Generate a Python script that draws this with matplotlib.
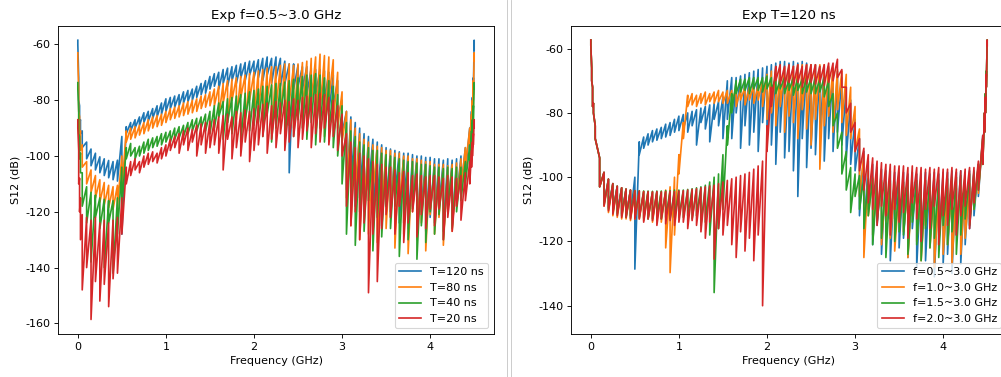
import numpy as np
import matplotlib
matplotlib.use('Agg')
import matplotlib.pyplot as plt
from matplotlib.lines import Line2D

plt.rcParams['axes.unicode_minus'] = False

# frequency sweep (GHz): fine near the band edges, 0.05 GHz in between
freq = [0.0, 0.01, 0.02, 0.03] + [round(0.05 * k, 2) for k in range(1, 90)] + [4.47, 4.48, 4.49, 4.5]

# each trace is stored as the upper / lower edge of its noise band (dB)
# ---- left panel: f=0.5~3.0 GHz, different T ----
t120_hi = [-58.5, -72, -82, -87,
           -91, -95, -97.5, -99, -100.3, -101, -101.6, -102, -101.5, -93,
           -89.5, -88, -87, -86, -84.5, -84, -83, -82, -81, -79.5,
           -79, -78.5, -78, -77, -76.5, -76, -75, -74, -73, -71.5,
           -70.5, -70, -69, -68.5, -68, -67.5, -67, -66.5, -66, -66,
           -65.5, -65, -64.5, -65, -64.5, -65, -66, -67, -67, -67.5,
           -68, -68, -68.5, -69, -69, -69.5, -70, -71, -73, -80,
           -84, -86, -88, -90, -92, -93, -94, -95, -96, -97,
           -97.5, -98, -98.5, -99, -99, -99.5, -100, -100, -100.5, -100.5,
           -101, -101, -101.5, -101, -101.5, -101, -100, -97, -90,
           -84, -79, -72, -58.5]
t120_lo = [-60, -80, -88, -92,
           -97, -101, -103.5, -105, -106, -107, -107.8, -108.5, -109, -128,
           -92, -91, -90, -89, -88, -87.5, -86.5, -86, -85, -84,
           -83, -82.5, -82, -81, -80.5, -80, -79, -78, -77.5, -76,
           -75, -76, -74, -75, -73, -74, -72, -73, -71, -72,
           -72, -73, -71, -74, -72, -75, -74, -106, -76, -75,
           -76, -78, -80, -78, -82, -80, -84, -82, -86, -92,
           -112, -110, -118, -115, -120, -112, -122, -116, -125, -118,
           -120, -114, -124, -117, -126, -118, -128, -120, -127, -122,
           -124, -118, -127, -120, -125, -116, -112, -106, -96,
           -90, -85, -78, -62]

t80_hi = [-63, -76, -86, -91,
          -96, -102, -105, -107, -108.5, -109.5, -110.5, -111, -110.5, -100,
          -91, -90, -89.5, -89, -88, -87, -86, -85.5, -85, -84,
          -83, -82.5, -82, -81, -80.5, -80, -79.5, -78.5, -78, -77,
          -76, -75, -74, -73, -72.5, -72, -71.5, -71, -70.5, -70,
          -69.5, -69, -68.5, -68, -68, -67.5, -67, -67, -67.5, -67,
          -66.5, -66, -65, -64.5, -63.5, -64, -64.5, -65.5, -70, -77,
          -84, -87, -90, -92, -94, -95, -96, -96.5, -97, -98,
          -98, -99, -99, -100, -100, -101, -101, -101.5, -102, -102,
          -103, -103, -103, -103.5, -103, -102.5, -101, -97, -90,
          -85, -80, -73, -63]
t80_lo = [-66, -84, -93, -98,
          -104, -110, -113, -115, -116.5, -117.5, -118.5, -119, -118, -112,
          -95, -94, -93.5, -92.5, -92, -91, -90, -89.5, -89, -88,
          -87, -86.5, -86, -85.5, -85, -84.5, -84, -83, -82.5, -82,
          -82, -86, -81, -88, -80, -87, -79, -89, -80, -86,
          -84, -90, -80, -92, -83, -88, -93, -81, -90, -86,
          -85, -92, -81, -90, -84, -93, -80, -88, -90, -95,
          -115, -125, -112, -130, -118, -128, -113, -131, -120, -126,
          -122, -133, -118, -128, -135, -120, -130, -124, -134, -121,
          -128, -122, -132, -119, -127, -118, -112, -104, -96,
          -90, -86, -80, -66]

t40_hi = [-73.7, -84, -93, -99,
          -106, -111, -113, -114, -115, -115.5, -116, -116, -115, -104,
          -97, -95.5, -97, -96.5, -95, -94, -93.5, -93, -92, -91.5,
          -91, -90, -89.5, -89, -88, -87, -86.5, -86, -85, -84,
          -82, -81, -80.5, -79.5, -79, -78.5, -78, -77.5, -77, -76.5,
          -76, -75, -75, -74.5, -74, -74, -73.5, -73, -72.5, -72,
          -71.5, -71, -71, -70.5, -71, -72, -73, -75, -78, -82,
          -88, -91, -93, -95, -96, -97, -98, -98, -99, -99.5,
          -100, -100.5, -101, -101.5, -102, -102, -102.5, -103, -103, -103.5,
          -104, -104, -104.5, -104, -104.5, -104, -104, -102, -96,
          -91, -87, -82, -73.7]
t40_lo = [-76, -92, -101, -106,
          -118, -124, -138, -122, -126, -140, -124, -142, -128, -118,
          -101, -100, -101, -100, -99, -98, -97, -96.5, -96, -95,
          -95, -94, -93.5, -93, -92, -91, -91, -90, -91, -92,
          -90, -86, -94, -88, -92, -85, -95, -87, -91, -89,
          -88, -93, -85, -95, -90, -86, -96, -89, -93, -87,
          -90, -94, -88, -96, -90, -95, -92, -97, -100, -110,
          -128, -114, -132, -120, -127, -116, -134, -122, -129, -118,
          -126, -118, -136, -124, -130, -119, -137, -125, -131, -120,
          -128, -121, -130, -118, -126, -120, -116, -110, -103,
          -97, -93, -88, -76]

t20_hi = [-87, -98, -108, -115,
          -121, -122, -123, -122, -124, -123, -124, -123, -122, -115,
          -104, -102, -101, -102, -100, -99, -98.5, -99, -97, -96,
          -94, -93, -92, -91, -90, -90.5, -89, -88.5, -88, -87.5,
          -87, -86, -85.5, -85, -86, -84, -84.5, -83.5, -84, -83,
          -82, -81.5, -81, -82, -80.5, -81, -80, -80.5, -79.5, -80,
          -79, -78.5, -79, -78, -77.5, -78, -79, -80, -82, -85,
          -92, -95, -97, -99, -100, -101, -102, -103, -103, -104,
          -104, -105, -106, -105.5, -106, -107, -106.5, -107, -107.5, -107,
          -107, -107.5, -108, -107, -107.5, -108, -107, -106, -102,
          -98, -95, -92, -87]
t20_lo = [-90, -110, -120, -130,
          -148, -140, -158.6, -145, -152, -146, -154, -144, -142, -128,
          -110, -107, -105, -106, -104, -103, -102, -102.5, -101, -100,
          -98, -97, -99, -96, -98, -95, -100, -96, -99, -97,
          -96, -99, -105, -94, -101, -97, -100, -95, -102, -98,
          -96, -93, -99, -94, -97, -92, -98, -95, -93, -97,
          -94, -91, -97, -92, -95, -90, -96, -93, -98, -100,
          -118, -125, -120, -130, -124, -149, -128, -145, -126, -121,
          -122, -128, -118, -131, -124, -120, -129, -121, -126, -119,
          -125, -119, -130, -122, -127, -118, -123, -116, -110,
          -104, -100, -96, -90]

# ---- right panel: T=120 ns, different start frequency ----
f05_hi = [-57.3, -66, -72, -77,
          -84, -94, -98.5, -100.6, -102, -102.8, -103.3, -103.7, -104, -100,
          -89, -87.5, -86.5, -85.5, -85, -84.5, -83.5, -83, -82, -81,
          -80.5, -80, -79.5, -79, -78.5, -78, -77.5, -77, -76.5, -75,
          -70, -69, -69, -68.5, -68, -67.5, -67, -66.5, -66, -65.5,
          -65, -64.5, -64, -64, -64.5, -64, -64.5, -64, -64.5, -65,
          -65, -65.5, -65.5, -66, -66.5, -67, -69, -72, -76, -82,
          -88, -92, -95, -96, -97, -97.5, -98, -98, -98.5, -98.5,
          -98.5, -99, -98.5, -99, -99, -98.5, -99, -98.5, -99, -98.5,
          -98.5, -98, -98.5, -98, -98.5, -98, -98, -96, -87,
          -80, -74, -67, -57.3]
f05_lo = [-59, -70, -78, -80,
          -88, -103, -108, -109.5, -110.5, -111, -111.5, -112, -112, -128.6,
          -93, -91, -90, -89, -88.5, -88, -87.5, -87, -86, -85.5,
          -85, -86, -84, -90, -83, -85, -89, -82, -84, -88,
          -82, -88, -80, -91, -84, -90, -86, -92, -83, -88,
          -90, -96, -86, -94, -92, -98, -106, -88, -97, -91,
          -93, -87, -95, -88, -92, -86, -90, -94, -96, -98,
          -112, -118, -110, -121, -115, -124, -117, -126, -113, -122,
          -119, -125, -116, -128, -120, -126, -118, -131, -121, -127,
          -124, -130, -118, -127, -121, -116, -112, -106, -95,
          -86, -80, -72, -59]

f10_hi = [-57.3, -66, -72, -77,
          -84, -94, -98.5, -100.6, -102, -102.8, -103.3, -103.7, -104, -104.2,
          -104.3, -104.4, -104.5, -104.5, -104.6, -104.5, -104, -103, -100, -93,
          -83, -74.5, -74, -74.5, -74, -73.5, -74, -73.5, -73, -73.5,
          -73, -73, -72.5, -72.5, -72, -72, -71.5, -71.5, -70, -68,
          -67, -66.5, -66, -66, -65.5, -65.5, -65, -65, -65, -65,
          -65, -65, -65, -65.5, -66, -66.5, -67, -68, -72, -78,
          -85, -93, -98, -100, -101, -101.5, -102, -102, -102.5, -103,
          -103, -103.5, -103, -104, -103.5, -104, -103.5, -104, -104, -103.5,
          -103.5, -103, -103.5, -103, -102.5, -102, -101, -97, -88,
          -80, -74, -67, -57.3]
f10_lo = [-59, -70, -78, -80,
          -88, -103, -109, -111, -112, -112.5, -113, -113, -113.5, -113,
          -113, -113.5, -113, -114, -113.5, -114, -122, -129.7, -118, -99,
          -88, -78, -77.5, -78, -77, -77.5, -76.5, -77, -76.5, -77,
          -77, -76.5, -78, -76, -77.5, -76, -77, -76, -78, -82,
          -80, -84, -78, -86, -81, -83, -88, -79, -85, -90,
          -82, -97.5, -84, -81, -86, -79, -83, -87, -88, -92,
          -106, -125, -112, -118, -110, -121, -114, -119, -123, -112,
          -117, -125, -112, -120, -126, -115, -122, -128, -118, -124,
          -121, -127, -117, -124, -119, -113, -110, -105, -96,
          -86, -80, -72, -59]

f15_hi = [-57.3, -66, -72, -77,
          -84, -94, -98.5, -100.6, -102, -102.8, -103.3, -103.7, -104, -104.2,
          -104.2, -104.3, -104.3, -104.4, -104.3, -104.3, -104.2, -104.2, -104, -104,
          -104, -103.8, -103.6, -103.3, -103, -102.5, -101.5, -100, -99, -93,
          -84, -74, -70, -69.5, -69.5, -69, -69, -69, -69, -68.5,
          -69, -69, -69.5, -69, -69.5, -69, -69, -69.5, -69, -69,
          -69, -69.5, -69, -70, -74, -80, -86, -92, -97, -99,
          -99.5, -100, -100.5, -100.5, -101, -101, -101.5, -101, -101.5, -101.5,
          -101.5, -101, -101.5, -101, -101.5, -101, -101, -100.5, -101, -100.5,
          -100.5, -100, -100, -99.5, -99, -99, -98.5, -96, -88,
          -80, -74, -67, -57.3]
f15_lo = [-59, -70, -78, -80,
          -88, -103, -108.5, -110, -111, -111.5, -112, -112.5, -112.5, -112.5,
          -112.5, -112.8, -113, -113, -112.5, -113, -112.5, -113, -112.5, -112.5,
          -112.5, -112, -113, -112, -115, -114, -118, -135.9, -116, -110,
          -90, -80, -74, -73.5, -73, -74, -72.5, -73, -73.5, -72.5,
          -73, -74, -72.5, -74, -73, -74.5, -73, -74, -73.5, -74,
          -74, -73.5, -75, -78, -84, -91, -99, -104, -111, -106,
          -110, -116, -112, -121, -114, -119, -125, -113, -120, -117,
          -118, -124, -114, -121, -126, -116, -122, -119, -125, -115,
          -121, -117, -124, -118, -113, -115, -110, -104, -96,
          -86, -80, -72, -59]

f20_hi = [-57.3, -66, -72, -77,
          -84, -94, -98.5, -100.6, -102, -102.8, -103.3, -103.7, -104, -104.2,
          -104.3, -104.5, -104.5, -104.6, -104.5, -104.6, -104.5, -104.4, -104.5, -104.3,
          -104.2, -104, -103.8, -103.6, -103.3, -103, -102.7, -102.5, -102, -101.5,
          -101, -100.5, -100, -99.5, -99, -98.5, -97.5, -96.5, -95, -84,
          -72, -65.5, -65, -65.5, -65, -65.5, -65, -65.5, -65, -65,
          -65, -65.5, -65, -64.5, -64.5, -63.3, -66.5, -72, -77, -83,
          -88, -91, -93, -94, -95, -95.5, -96, -96, -96.5, -96.5,
          -96.5, -97, -96.5, -97, -97, -97.5, -97, -97.5, -97, -97.5,
          -97.5, -97, -97.5, -98, -97.5, -97, -97, -95, -87,
          -80, -75, -68, -57.3]
f20_lo = [-59, -70, -78, -80,
          -88, -103, -109, -110.5, -111.5, -112, -112.5, -112.5, -113, -113,
          -113, -114, -113, -113.5, -115, -113, -114.5, -113.5, -115, -114,
          -114, -116, -113.5, -115, -117, -119, -114, -125.5, -116, -118,
          -115, -121, -125, -117, -123, -119, -126, -118, -140, -92,
          -78, -70, -71, -72, -70.5, -71.5, -70.5, -72, -71, -70.5,
          -71, -70.5, -71.5, -70.5, -70, -69, -72, -80, -86, -92,
          -98, -104, -108, -110, -115, -109, -112, -118, -110, -114,
          -111, -119, -108, -113, -120, -110, -116, -109, -121, -112,
          -115, -110, -118, -112, -109, -116, -108, -104, -96,
          -86, -80, -72, -59]

left_series = [(t120_hi, t120_lo, 'T=120 ns'), (t80_hi, t80_lo, 'T=80 ns'),
               (t40_hi, t40_lo, 'T=40 ns'), (t20_hi, t20_lo, 'T=20 ns')]
right_series = [(f05_hi, f05_lo, 'f=0.5~3.0 GHz'), (f10_hi, f10_lo, 'f=1.0~3.0 GHz'),
                (f15_hi, f15_lo, 'f=1.5~3.0 GHz'), (f20_hi, f20_lo, 'f=2.0~3.0 GHz')]
colors = ['tab:blue', 'tab:orange', 'tab:green', 'tab:red']


def draw_trace(ax, hi, lo, color, label):
    # alternate upper / lower edge at each frequency to get the noisy band
    x = np.repeat(freq, 2)
    y = np.column_stack([hi, lo]).ravel()
    ax.plot(x, y, color=color, lw=1.5, label=label)


# the original was rendered larger and shrunk, so draw at 80 dpi
W, H, DPI = 1001, 377, 80
fig = plt.figure(figsize=(W / DPI, H / DPI), dpi=DPI)
ax1 = fig.add_axes([58 / W, (H - 334) / H, 436 / W, 308 / H])
ax2 = fig.add_axes([571 / W, (H - 334) / H, 436 / W, 308 / H])

for (hi, lo, lab), c in zip(left_series, colors):
    draw_trace(ax1, hi, lo, c, lab)
for (hi, lo, lab), c in zip(right_series, colors):
    draw_trace(ax2, hi, lo, c, lab)

ax1.set_title('Exp f=0.5~3.0 GHz')
ax2.set_title('Exp T=120 ns')
for ax in (ax1, ax2):
    ax.set_xlabel('Frequency (GHz)')
    ax.set_ylabel('S12 (dB)')
    ax.set_xlim(-0.225, 4.725)
    ax.set_xticks([0, 1, 2, 3, 4])
    ax.legend(loc='lower right')
ax1.set_ylim(-163.8, -53.4)
ax2.set_ylim(-148.8, -52.95)

# thin grey divider between the two pictures
for xs in (506.7, 510.7):
    fig.add_artist(Line2D([xs / W, xs / W], [0, 1], transform=fig.transFigure,
                          color='#c8c8c8', lw=0.8))

fig.savefig('out.png', dpi=DPI)
